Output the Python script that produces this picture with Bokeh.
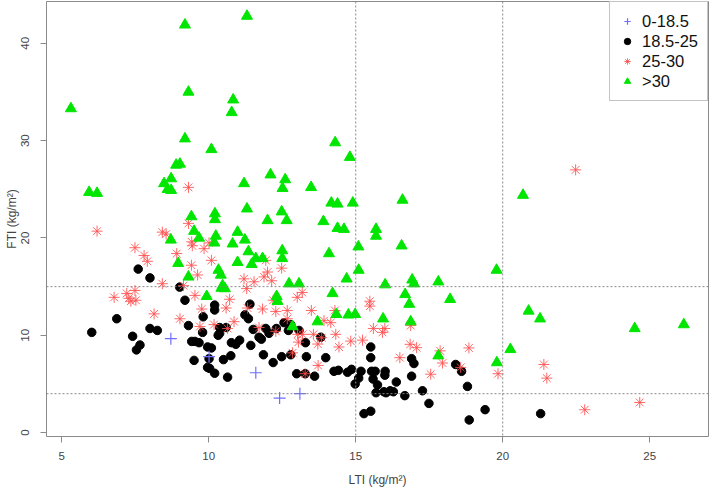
from bokeh.plotting import figure
from bokeh.models import Range1d, FixedTicker, Span, Legend, LegendItem
from bokeh.embed import file_html
from bokeh.resources import INLINE

# ---- data (LTI, FTI in kg/m^2) per BMI group ----
lti_under = [8.71, 10.01, 11.60, 12.41, 13.10]
fti_under = [9.65, 7.8, 6.15, 3.55, 4.0]

lti_normal = [6.02, 6.87, 7.60, 8.00, 7.41, 7.66, 7.54, 8.00, 8.25, 9.01, 9.19, 9.31, 9.42, 9.53,
              9.67, 9.50, 9.81, 9.79, 9.96, 10.09, 10.01, 9.96, 10.03, 10.20, 10.50, 10.64, 10.20,
              10.20, 10.37, 10.32, 10.37, 10.59, 10.77, 10.92, 10.75, 11.05, 11.43, 11.23, 11.35,
              11.40, 11.51, 11.71, 11.79, 11.86, 11.94, 12.05, 12.19, 12.48, 12.30, 12.56, 12.79,
              12.71, 13.07, 13.29, 13.81, 12.79, 13.32, 13.98, 12.99, 13.28, 13.60, 14.26, 14.41,
              14.72, 14.86, 14.98, 15.18, 15.51, 15.51, 15.54, 15.66, 15.59, 15.74, 15.69, 16.03,
              15.28, 15.51, 16.00, 15.10, 15.99, 15.96, 16.17, 16.28, 16.38, 16.67, 16.90, 16.98,
              16.90, 17.27, 17.49, 18.40, 18.60, 18.80, 18.86, 19.40, 21.29]
fti_normal = [10.3, 11.7, 16.8, 15.9, 9.9, 9.0, 8.5, 10.7, 10.5, 14.95, 13.6, 11.0, 9.37, 9.37,
              9.24, 7.42, 11.9, 10.3, 8.8, 8.7, 7.6, 6.7, 6.6, 6.1, 7.5, 5.7, 13.1,
              12.6, 10.8, 10.0, 10.2, 10.8, 9.24, 9.07, 7.9, 9.5, 8.96, 12.1, 11.7,
              13.2, 10.6, 9.8, 9.6, 8.0, 10.7, 10.2, 7.2, 7.8, 10.7, 11.3, 11.1,
              10.5, 10.5, 9.24, 9.8, 8.0, 7.8, 7.7, 6.05, 6.05, 5.8, 6.3, 6.4,
              6.2, 6.5, 5.0, 6.3, 8.8, 7.7, 6.3, 6.3, 5.5, 4.9, 4.1, 4.1,
              1.95, 2.2, 6.3, 5.6, 5.9, 4.2, 4.3, 4.2, 5.2, 3.8, 7.6, 7.1,
              5.8, 4.3, 3.0, 7.0, 6.3, 4.75, 1.3, 2.36, 1.95]

lti_over = [9.31, 6.20, 8.42, 8.55, 9.31, 7.49, 9.42, 9.44, 9.84, 10.01, 7.80, 7.91, 8.91, 9.41,
            9.62, 10.09, 8.42, 9.14, 6.78, 7.21, 7.35, 7.49, 7.52, 7.28, 8.14, 9.53, 9.76, 9.02,
            9.70, 10.18, 10.59, 10.71, 10.86, 10.64, 11.20, 11.54, 11.88, 11.94, 12.00, 12.48,
            12.14, 11.29, 11.32, 11.83, 11.71, 12.19, 12.28, 12.67, 12.67, 13.01, 13.18, 13.49,
            14.29, 13.92, 14.15, 12.28, 13.02, 13.19, 13.56, 13.71, 14.32, 14.43, 13.05, 13.84,
            14.83, 15.23, 12.85, 13.72, 13.28, 15.48, 15.48, 15.60, 15.91, 15.99, 16.50, 16.85,
            17.07, 17.55, 17.87, 17.95, 18.57, 18.85, 16.87, 19.84, 21.40, 21.50, 22.79, 24.66,
            22.48]
fti_over = [25.2, 20.7, 20.6, 20.4, 21.5, 19.0, 19.6, 19.2, 18.9, 19.5, 18.2, 17.6, 18.4, 17.2,
            16.2, 17.7, 15.3, 15.1, 13.9, 14.3, 13.5, 14.6, 13.6, 13.8, 12.2, 14.1, 12.7, 11.7,
            10.9, 11.1, 12.8, 13.7, 11.4, 10.7, 15.8, 15.5, 16.0, 17.7, 16.5, 16.9,
            15.6, 14.8, 12.8, 12.7, 10.8, 13.6, 12.45, 12.55, 11.7, 13.9, 14.4, 12.55,
            12.55, 11.5, 11.3, 10.4, 10.1, 10.1, 10.1, 9.1, 10.1, 8.8, 9.3, 9.75,
            9.4, 9.5, 8.2, 6.9, 6.05, 13.0, 13.5, 10.7, 10.3, 10.7, 7.7, 9.07,
            8.73, 6.0, 8.4, 7.15, 6.7, 8.7, 11.0, 6.05, 7.0, 5.6, 2.35, 3.1,
            27.0]

lti_obese = [5.31, 9.19, 9.31, 9.19, 10.09, 8.89, 9.02, 5.93, 6.20, 8.48, 8.72, 8.60, 8.72, 10.83,
             10.78, 9.41, 10.21, 10.21, 9.50, 9.67, 10.24, 10.98, 8.71, 10.81, 10.19, 11.30, 14.30,
             14.80, 12.10, 12.60, 12.51, 11.20, 13.48, 11.30, 14.17, 14.38, 14.90, 16.59, 12.48,
             12.00, 12.65, 13.90, 14.38, 14.60, 15.69, 15.69, 11.23, 16.56, 15.09, 11.35, 11.60,
             11.83, 11.46, 10.98, 8.96, 10.33, 10.41, 9.31, 10.47, 12.50, 12.50, 14.09, 15.10,
             14.69, 12.73, 13.07, 16.00, 19.79, 16.92, 16.98, 17.81, 20.88, 21.27, 24.49, 26.16,
             20.26, 19.80, 16.68, 16.82, 18.21, 16.87, 17.81, 14.21, 12.31, 12.34, 14.34, 14.75,
             14.98, 13.70, 15.93, 12.85, 9.93, 10.43, 10.55, 20.69]
fti_obese = [33.3, 41.9, 35.0, 30.2, 29.1, 27.5, 27.6, 24.7, 24.6, 25.6, 26.1, 25.0, 24.9, 34.2,
             32.9, 22.2, 22.5, 21.9, 20.7, 20.0, 20.2, 20.6, 19.8, 19.4, 19.5, 42.8, 29.8,
             28.3, 26.5, 26.0, 25.1, 25.6, 25.2, 23.0, 23.6, 23.5, 23.6, 23.9, 22.7,
             21.8, 21.8, 21.7, 21.0, 20.9, 20.9, 20.2, 19.8, 19.2, 19.1, 18.6, 17.9,
             17.9, 17.3, 17.5, 17.4, 16.7, 16.2, 16.0, 15.1, 18.7, 17.9, 18.4, 16.7,
             15.8, 15.3, 15.3, 15.2, 16.7, 15.7, 15.3, 15.5, 12.5, 11.7, 10.7, 11.1,
             8.55, 7.2, 14.2, 13.2, 13.7, 11.4, 7.9, 14.3, 14.0, 13.5, 12.15, 12.1,
             12.15, 11.4, 11.7, 10.9, 14.0, 14.85, 14.8, 24.4]

group_labels = ["0-18.5", "18.5-25", "25-30", ">30"]
x_ticks = [5, 10, 15, 20, 25]
y_ticks = [0, 10, 20, 30, 40]
v_cuts = [15, 20]
h_cuts = [4, 15]

FONT = "Liberation Sans"
GRAY = "#8a8a8a"

p = figure(width=709, height=489, output_backend="svg", toolbar_location=None,
           x_range=Range1d(4.48, 27.0), y_range=Range1d(-0.4, 44.3),
           min_border_left=46, min_border_right=1, min_border_top=1, min_border_bottom=53)
p.background_fill_color = "white"
p.border_fill_color = "white"
p.outline_line_color = GRAY
p.outline_line_width = 1
p.xgrid.visible = False
p.ygrid.visible = False

for ax in (p.xaxis[0], p.yaxis[0]):
    ax.axis_line_color = None
    ax.major_tick_in = 0
    ax.major_tick_out = 6
    ax.minor_tick_out = 0
    ax.minor_tick_in = 0
    ax.major_tick_line_color = GRAY
    ax.major_label_text_font = FONT
    ax.major_label_text_font_size = "11.5px"
    ax.major_label_text_color = "#444444"
    ax.axis_label_text_font = FONT
    ax.axis_label_text_font_size = "12px"
    ax.axis_label_text_font_style = "normal"
    ax.axis_label_text_color = "#444444"

p.xaxis.ticker = FixedTicker(ticks=x_ticks)
p.yaxis.ticker = FixedTicker(ticks=y_ticks)
p.xaxis.axis_label = "LTI (kg/m²)"
p.yaxis.axis_label = "FTI (kg/m²)"
p.xaxis.major_label_standoff = 9
p.xaxis.axis_label_standoff = 10
p.yaxis.major_label_orientation = "vertical"
p.yaxis.major_label_standoff = 11
p.yaxis.axis_label_standoff = 0

r_black = p.scatter(lti_normal, fti_normal, marker="circle", size=8.5,
                    fill_color="black", line_color="black")
r_red = p.scatter(lti_over, fti_over, marker="asterisk", size=11,
                  line_color="#ff4d4d", line_width=1, line_alpha=0.85)
r_green = p.scatter(lti_obese, fti_obese, marker="triangle", size=11,
                    fill_color="#00e600", line_color="#00e600")
r_blue = p.scatter(lti_under, fti_under, marker="cross", size=12,
                   line_color="#6f6fff", line_width=1.2)

for v in v_cuts:
    p.add_layout(Span(location=v, dimension="height", line_color="#888888",
                      line_dash="2 2", line_width=1))
for h in h_cuts:
    p.add_layout(Span(location=h, dimension="width", line_color="#888888",
                      line_dash="2 2", line_width=1))

legend = Legend(items=[LegendItem(label=group_labels[0], renderers=[r_blue]),
                       LegendItem(label=group_labels[1], renderers=[r_black]),
                       LegendItem(label=group_labels[2], renderers=[r_red]),
                       LegendItem(label=group_labels[3], renderers=[r_green])],
                location="top_right", margin=0, padding=9, spacing=0,
                label_height=20, glyph_height=20, glyph_width=16, label_standoff=7,
                border_line_color=GRAY, border_line_width=1,
                background_fill_color="white", background_fill_alpha=1,
                label_text_font=FONT, label_text_font_size="16.5px",
                label_text_color="#111111")
p.add_layout(legend)

open("out.html", "w").write(file_html(p, INLINE))
